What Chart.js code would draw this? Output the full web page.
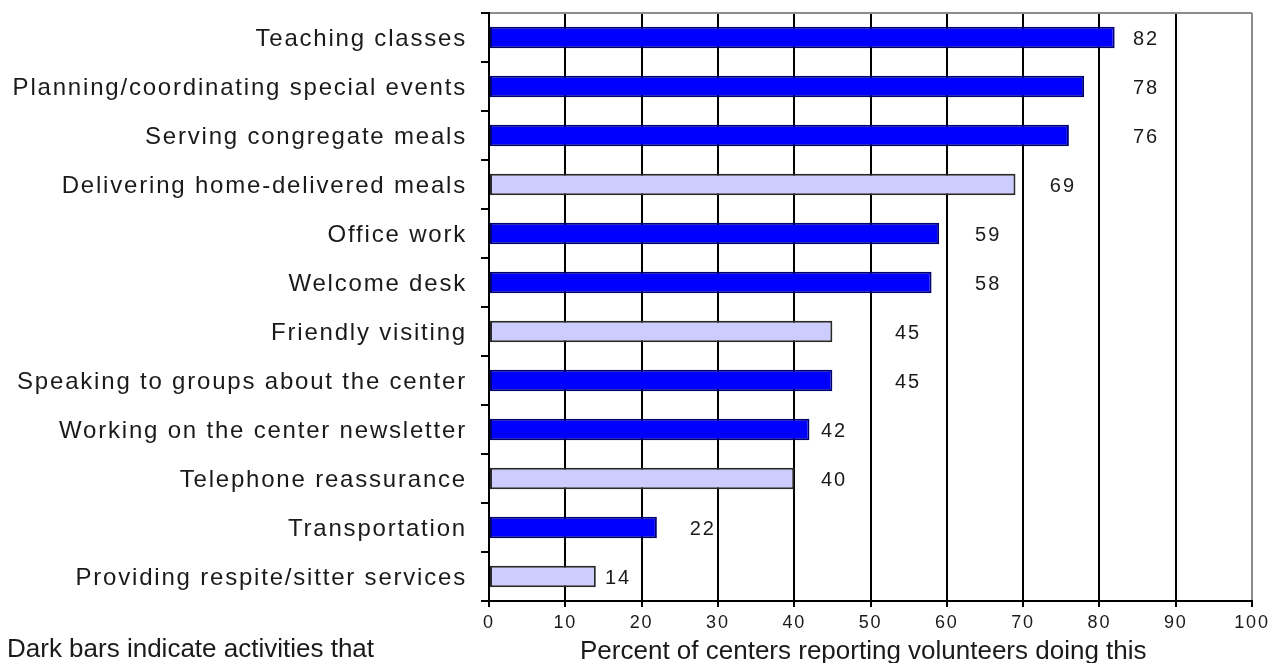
<!DOCTYPE html>
<html>
<head>
<meta charset="utf-8">
<script src="https://cdn.jsdelivr.net/npm/chart.js@4/dist/chart.umd.min.js"></script>
<style>
  body { margin: 0; background: #fff; }
  #wrap { position: relative; width: 1277px; height: 663px; overflow: hidden; }
  .note { position: absolute; font-family: "Liberation Sans", Arial, sans-serif; color: #1a1a1a; white-space: nowrap; line-height: 1; }
</style>
</head>
<body>
<div id="wrap">
  <canvas id="volChart" width="1277" height="663"></canvas>
  <div class="note" style="left:580px; top:637px; font-size:26px;">Percent of centers reporting volunteers doing this</div>
  <div class="note" style="left:7px; top:635px; font-size:26px;">Dark bars indicate activities that</div>
</div>
<script>
const activities = [
  'Teaching classes',
  'Planning/coordinating special events',
  'Serving congregate meals',
  'Delivering home-delivered meals',
  'Office work',
  'Welcome desk',
  'Friendly visiting',
  'Speaking to groups about the center',
  'Working on the center newsletter',
  'Telephone reassurance',
  'Transportation',
  'Providing respite/sitter services'
];
const percents = [82, 78, 76, 69, 59, 58, 45, 45, 42, 40, 22, 14];
const darkBar = [true, true, true, false, true, true, false, true, true, false, true, false];
const xTicks = [0, 10, 20, 30, 40, 50, 60, 70, 80, 90, 100];

// old-style chart text is drawn with extra tracking
const tracking = {
  id: 'tracking',
  beforeDraw(chart) { chart.ctx.letterSpacing = '1.8px'; },
  afterDraw(chart) { chart.ctx.letterSpacing = '0px'; }
};

// value labels sit in a column a little right of the bars
const valueLabels = {
  id: 'valueLabels',
  afterDatasetsDraw(chart, args, opts) {
    const ctx = chart.ctx;
    const xs = chart.scales.x;
    const meta = chart.getDatasetMeta(0);
    ctx.save();
    ctx.font = '20px "Liberation Sans", Arial, sans-serif';
    ctx.letterSpacing = '2px';
    ctx.fillStyle = '#1a1a1a';
    ctx.textAlign = 'left';
    ctx.textBaseline = 'middle';
    meta.data.forEach((bar, i) => {
      const v = chart.data.datasets[0].data[i];
      ctx.fillText(String(v), xs.getPixelForValue(opts.anchors[i]), bar.y + 2);
    });
    ctx.restore();
  }
};

new Chart(document.getElementById('volChart'), {
  type: 'bar',
  data: {
    labels: activities,
    datasets: [{
      data: percents,
      backgroundColor: darkBar.map(d => d ? '#0000ff' : '#ccccff'),
      borderColor: darkBar.map(d => d ? '#000070' : '#2a2a2a'),
      borderWidth: 2,
      borderSkipped: false,
      barPercentage: 0.44,
      categoryPercentage: 1.0
    }]
  },
  options: {
    indexAxis: 'y',
    responsive: false,
    animation: false,
    layout: { padding: { top: 13, right: 25, left: 0, bottom: 0 } },
    plugins: {
      legend: { display: false },
      tooltip: { enabled: false },
      valueLabels: { anchors: [84.4, 84.4, 84.4, 73.5, 63.7, 63.7, 53.2, 53.2, 43.5, 43.5, 26.3, 15.2] }
    },
    scales: {
      x: {
        min: 0,
        max: 100,
        afterBuildTicks: s => { s.ticks = xTicks.map(v => ({ value: v })); },
        afterFit: s => { s.height = 62; },
        grid: {
          color: c => (c.tick && c.tick.value === 100) ? '#8c8c8c' : '#000',
          lineWidth: 2,
          tickColor: '#000',
          tickLength: 6
        },
        border: { color: '#000', width: 2 },
        ticks: {
          autoSkip: false,
          maxRotation: 0,
          padding: 5,
          color: '#1a1a1a',
          font: { family: '"Liberation Sans Narrow", "Liberation Sans", Arial', size: 18 }
        }
      },
      y: {
        afterFit: s => { s.width = 489; s.paddingTop = 0; s.paddingBottom = 0; },
        grid: {
          offset: true,
          drawOnChartArea: true,
          color: c => c.index === 0 ? '#8c8c8c' : 'rgba(0,0,0,0)',
          lineWidth: 2,
          tickColor: '#000',
          tickLength: 8
        },
        border: { color: '#000', width: 2 },
        ticks: {
          padding: 14,
          labelOffset: 2,
          color: '#1a1a1a',
          font: { family: '"Liberation Sans", Arial, sans-serif', size: 24 }
        }
      }
    }
  },
  plugins: [tracking, valueLabels]
});
</script>
</body>
</html>
